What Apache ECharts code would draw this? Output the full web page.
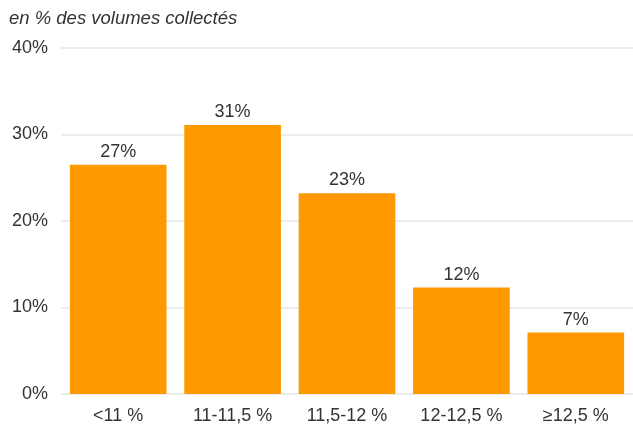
<!DOCTYPE html>
<html><head><meta charset="utf-8">
<script src="https://cdn.jsdelivr.net/npm/echarts@6/dist/echarts.min.js"></script>
<style>html,body{margin:0;padding:0;background:#fff}#c{width:633px;height:426px}</style>
</head><body><div id="c"></div>
<script>
var categories = ['<11 %', '11-11,5 %', '11,5-12 %', '12-12,5 %', '≥12,5 %'];
var values = [26.5, 31.1, 23.2, 12.3, 7.1];
var labels = ['27%', '31%', '23%', '12%', '7%'];
var F = 'Liberation Sans, Arial';
var chart = echarts.init(document.getElementById('c'));
chart.setOption({
  animation: false,
  title: {text: 'en % des volumes collectés', left: 4, top: 4,
    textStyle: {fontFamily: F, fontStyle: 'italic', fontWeight: 'normal', fontSize: 18.5, color: '#333'}},
  grid: {left: 61, right: -2, top: 48, bottom: 32},
  xAxis: {type: 'category', data: categories,
    axisLine: {show: false}, axisTick: {show: false},
    axisLabel: {color: '#333', fontSize: 18, fontFamily: F, margin: 13}},
  yAxis: {type: 'value', min: 0, max: 40, interval: 10,
    axisLabel: {formatter: '{value}%', color: '#333', fontSize: 18, fontFamily: F, margin: 13},
    splitLine: {lineStyle: {color: '#e6e6e6', width: 1.5}},
    axisLine: {show: false}, axisTick: {show: false}},
  series: [{type: 'bar', data: values, barCategoryGap: '15.5%',
    itemStyle: {color: '#ff9900'},
    label: {show: true, position: 'top', distance: 4, color: '#333', fontSize: 18, fontFamily: F,
      formatter: function(p){ return labels[p.dataIndex]; }}}]
});
</script></body></html>
